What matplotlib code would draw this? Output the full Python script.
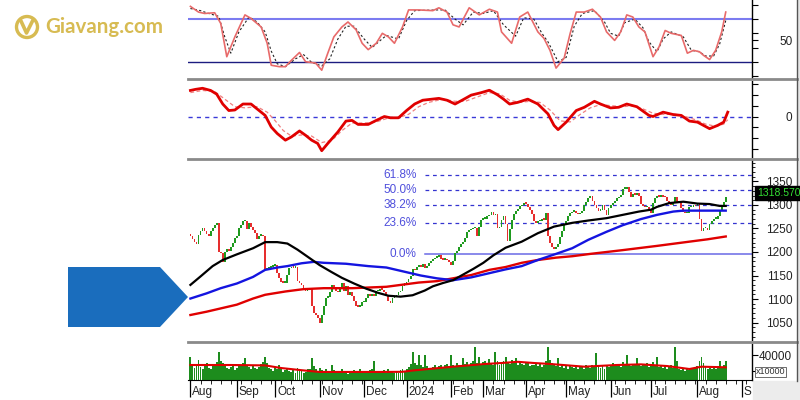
import numpy as np
import matplotlib.pyplot as plt
from matplotlib.lines import Line2D
from matplotlib.patches import Polygon, Rectangle, Ellipse
import matplotlib.transforms as mtrans

plt.rcParams['font.family'] = ['Liberation Sans', 'DejaVu Sans']

# ---- data (index = trading day from 1 Aug 2023) ----
month_labels = ["Aug", "Sep", "Oct", "Nov", "Dec", "2024", "Feb", "Mar",
                "Apr", "May", "Jun", "Jul", "Aug", "S"]
month_pos = [0, 23, 42, 64, 86, 107, 129, 145, 166, 186, 208, 228, 251, 273]

open_first = 1240
close = [
    1235, 1228, 1222, 1219, 1238, 1246, 1251, 1245, 1240, 1236,
    1245, 1253, 1258, 1262, 1202, 1198, 1180, 1200, 1208, 1204,
    1212, 1221, 1230, 1236, 1251, 1258, 1266, 1268, 1250, 1262,
    1255, 1247, 1242, 1228, 1236, 1238, 1234, 1162, 1166, 1168,
    1170, 1172, 1174, 1157, 1145, 1138, 1136, 1136, 1153, 1166,
    1170, 1168, 1170, 1140, 1134, 1130, 1123, 1119, 1121, 1123,
    1087, 1072, 1068, 1060, 1051, 1066, 1087, 1104, 1106, 1115,
    1130, 1126, 1119, 1115, 1123, 1136, 1119, 1128, 1110, 1115,
    1108, 1096, 1087, 1085, 1087, 1094, 1094, 1104, 1111, 1108,
    1112, 1108, 1117, 1119, 1123, 1121, 1115, 1108, 1096, 1092,
    1104, 1106, 1110, 1115, 1119, 1128, 1134, 1138, 1143, 1150,
    1165, 1162, 1170, 1172, 1170, 1175, 1168, 1172, 1177, 1181,
    1186, 1189, 1190, 1194, 1187, 1185, 1186, 1184, 1180, 1174,
    1182, 1198, 1204, 1211, 1219, 1223, 1230, 1243, 1247, 1250,
    1251, 1253, 1234, 1255, 1270, 1272, 1272, 1277, 1280, 1287,
    1279, 1281, 1251, 1255, 1270, 1277, 1260, 1225, 1250, 1270,
    1281, 1289, 1292, 1298, 1300, 1306, 1304, 1296, 1290, 1281,
    1266, 1262, 1266, 1268, 1272, 1270, 1283, 1236, 1221, 1211,
    1208, 1212, 1219, 1232, 1245, 1258, 1268, 1277, 1283, 1287,
    1287, 1285, 1281, 1283, 1289, 1300, 1308, 1315, 1321, 1310,
    1300, 1294, 1289, 1291, 1300, 1290, 1279, 1294, 1302, 1306,
    1310, 1315, 1317, 1323, 1336, 1336, 1340, 1328, 1319, 1324,
    1323, 1326, 1321, 1304, 1298, 1296, 1296, 1291, 1285, 1306,
    1315, 1321, 1319, 1321, 1319, 1317, 1310, 1304, 1302, 1306,
    1319, 1306, 1306, 1294, 1287, 1283, 1285, 1296, 1296, 1300,
    1298, 1304, 1272, 1245, 1251, 1253, 1247, 1260, 1266, 1272,
    1272, 1277, 1289, 1296, 1308, 1318.57,
]

volume_k = [
    37, 26, 24, 28, 34, 25, 22, 27, 30, 24,
    23, 26, 29, 31, 44, 33, 30, 26, 24, 22,
    25, 27, 21, 24, 28, 26, 30, 36, 27, 25,
    23, 26, 24, 22, 25, 29, 31, 38, 30, 24,
    22, 20, 25, 23, 27, 24, 19, 21, 22, 20,
    19, 22, 18, 24, 21, 20, 17, 19, 22, 23,
    36, 26, 22, 20, 24, 21, 19, 22, 20, 18,
    27, 21, 19, 17, 20, 22, 18, 19, 16, 20,
    18, 21, 19, 17, 22, 20, 18, 17, 19, 21,
    23, 32, 20, 18, 17, 19, 21, 18, 22, 20,
    19, 17, 20, 18, 21, 22, 19, 23, 25, 29,
    44, 30, 27, 40, 28, 25, 40, 26, 24, 22,
    25, 27, 23, 26, 28, 24, 27, 29, 26, 40,
    28, 26, 30, 27, 25, 36, 29, 31, 27, 30,
    32, 50, 30, 38, 28, 31, 33, 29, 35, 30,
    28, 44, 32, 27, 30, 33, 38, 31, 29, 34,
    30, 36, 28, 33, 29, 27, 31, 30, 26, 28,
    27, 30, 26, 29, 25, 28, 32, 50, 34, 30,
    28, 26, 36, 25, 27, 24, 26, 23, 28, 25,
    24, 27, 22, 26, 25, 23, 27, 26, 24, 28,
    25, 42, 27, 24, 26, 23, 28, 25, 27, 30,
    26, 29, 27, 25, 31, 28, 40, 27, 26, 29,
    27, 36, 28, 26, 29, 27, 30, 25, 28, 31,
    26, 38, 25, 27, 24, 26, 23, 25, 27, 24,
    50, 32, 23, 21, 24, 20, 22, 21, 23, 22,
    24, 26, 33, 38, 30, 25, 22, 24, 23, 25,
    22, 26, 32, 24, 27, 32,
]

vol_ma_idx = [0, 20, 37, 45, 55, 64, 80, 95, 105, 110, 120, 130, 146, 154,
              162, 170, 178, 195, 211, 223, 236, 247, 253, 265]
vol_ma_val = [27.5, 27.5, 27, 23.7, 21, 18.8, 18.8, 18.8, 19, 20.6, 23, 25.4,
              28.8, 30, 31.5, 30, 28.8, 25.4, 27.5, 28.3, 26.2, 22.5, 25.4, 24.6]

ma_black_idx = [0, 5, 11, 16, 23, 31, 37, 43, 48, 53, 58, 64, 70, 75, 81, 87,
                93, 98, 104, 110, 116, 120, 125, 130, 135, 140, 145, 150, 156,
                164, 172, 180, 189, 197, 206, 214, 222, 228, 231, 237, 244,
                251, 257, 262, 265]
ma_black_val = [1130, 1148, 1170, 1183, 1195, 1208, 1221, 1221, 1218, 1205,
                1190, 1172, 1157, 1145, 1133, 1122, 1113, 1107, 1105, 1108,
                1118, 1127, 1134, 1140, 1152, 1164, 1177, 1193, 1209, 1222,
                1240, 1254, 1262, 1267, 1272, 1279, 1286, 1290, 1296, 1304,
                1307, 1303, 1302, 1298, 1298]

ma_blue_idx = [0, 8, 15, 23, 31, 37, 43, 48, 55, 61, 66, 77, 88, 97, 106, 114,
               122, 130, 139, 148, 156, 164, 172, 181, 189, 197, 206, 214,
               223, 231, 239, 244, 252, 265]
ma_blue_val = [1101, 1112, 1123, 1133, 1147, 1162, 1167, 1170, 1176, 1179,
               1177, 1175, 1170, 1167, 1158, 1150, 1144, 1140, 1146, 1155,
               1163, 1170, 1183, 1196, 1208, 1226, 1243, 1257, 1270, 1279,
               1286, 1288, 1288, 1288]

ma_red_idx = [0, 8, 15, 23, 31, 37, 47, 56, 66, 80, 97, 113, 122, 130, 139,
              148, 156, 164, 172, 181, 189, 198, 214, 231, 247, 256, 265]
ma_red_val = [1066, 1073, 1080, 1088, 1101, 1109, 1116, 1121, 1123, 1123,
              1126, 1135, 1138, 1144, 1151, 1162, 1168, 1177, 1183, 1188,
              1191, 1196, 1204, 1213, 1222, 1227, 1233]

fib_labels = ["0.0%", "23.6%", "38.2%", "50.0%", "61.8%"]
fib_levels = [1195.7, 1261.7, 1300, 1332, 1364]
last_price = "1318.570"

stk_idx = [0, 4, 7, 12, 15, 18, 22, 27, 30, 35, 38, 40, 44, 47, 50, 54, 57,
           62, 65, 68, 71, 75, 78, 82, 85, 88, 92, 95, 98, 101, 105, 108, 113,
           120, 123, 127, 130, 133, 138, 143, 148, 152, 154, 159, 163, 167,
           172, 175, 178, 181, 185, 188, 191, 195, 199, 203, 206, 210, 213,
           216, 219, 222, 225, 229, 232, 235, 238, 243, 246, 249, 252, 254,
           257, 260, 263, 265]
stk_val = [98, 90, 88, 89, 74, 27, 55, 86, 81, 69, 46, 15, 13, 13, 22, 33, 20,
           18, 8, 32, 55, 69, 76, 65, 46, 37, 46, 60, 55, 46, 69, 93, 93, 92,
           96, 90, 72, 69, 96, 86, 94, 90, 62, 46, 83, 90, 62, 53, 36, 11, 25,
           60, 90, 90, 94, 83, 62, 50, 62, 86, 83, 69, 62, 27, 41, 64, 60, 57,
           32, 36, 34, 29, 23, 36, 62, 90]

std_idx = [0, 5, 9, 14, 17, 20, 24, 29, 33, 37, 40, 43, 47, 52, 56, 60, 65,
           69, 73, 77, 81, 86, 90, 94, 97, 103, 107, 111, 122, 126, 131, 135,
           140, 145, 150, 155, 161, 165, 170, 174, 177, 182, 186, 190, 194,
           200, 205, 208, 212, 215, 220, 224, 227, 231, 234, 238, 244, 248,
           252, 255, 259, 262, 265]
std_val = [95, 92, 88, 84, 55, 32, 62, 83, 76, 62, 35, 17, 13, 24, 30, 19, 14,
           24, 52, 70, 70, 52, 40, 50, 57, 52, 78, 92, 93, 93, 80, 72, 90, 88,
           92, 72, 56, 82, 80, 60, 48, 20, 26, 70, 88, 92, 76, 60, 56, 75, 80,
           68, 48, 34, 52, 62, 55, 36, 34, 28, 28, 45, 78]

macd_idx = [0, 2.5, 6, 10, 13, 16, 19, 22, 26, 30, 34, 37, 40, 43, 47, 50, 54,
            57, 60, 63, 65, 68, 73, 77, 80, 83, 88, 92, 96, 99, 103, 107, 111,
            115, 123, 127, 131, 134, 139, 144, 148, 152, 155, 158, 162, 167,
            172, 177, 180, 182, 186, 191, 195, 200, 203, 208, 212, 216, 221,
            227, 229, 234, 239, 243, 247, 251, 257, 261, 264, 266]
macd_val = [24, 25, 26, 24, 20.6, 11.5, 5.5, 6, 11.5, 11.5, 5.5, 1, -9.7,
            -15.7, -21.8, -18.8, -13.3, -17.3, -21.8, -24.8, -31.5, -24.8,
            -14.2, -4.2, -3.6, -7.3, -7.3, -3.6, 0, -1.2, -1.2, 5.5, 11.5, 15,
            16.7, 15, 11.5, 14.5, 19.7, 22, 24.2, 20, 16, 11.5, 13, 16, 11.5,
            2.4, -8.2, -12.1, -5.2, 5.5, 8.5, 14, 11.5, 7.9, 8.5, 11.5, 9, 1,
            0, 4, 1.8, 1, -4.2, -5.2, -11.2, -8.2, -5.2, 4]

sig_idx = [0, 6, 12, 17, 22, 27, 33, 38, 42, 46, 50, 55, 60, 65, 70, 75, 80,
           86, 92, 97, 103, 108, 113, 118, 125, 131, 136, 142, 148, 153, 158,
           163, 168, 173, 178, 183, 188, 193, 198, 203, 208, 214, 219, 224,
           229, 234, 240, 245, 250, 255, 260, 264, 266]
sig_val = [22, 24, 23, 16, 9, 8, 9, 4, -4, -13, -18, -17, -18, -24, -22, -13,
           -6, -6, -5, -2, -1, 2, 9, 13, 16, 14, 14, 18, 22, 21, 15, 13, 14,
           13, 6, -4, -5, 2, 8, 11, 10, 9, 10, 7, 3, 2, 2, 0, -3, -7, -9, -7,
           -3]

# ---- layout (pixel based, 800x400) ----
W, H = 800, 400


def fx(x):
    return x / W


def fy(y):
    return 1 - y / H


fig = plt.figure(figsize=(8, 4), dpi=100)
fig.patch.set_facecolor('white')


def add_ax(top, bottom):
    return fig.add_axes([fx(188), fy(bottom), (752 - 188) / W, (bottom - top) / H])


ax_st = add_ax(0, 78)
ax_md = add_ax(81, 157)
ax_p = add_ax(160, 340)
ax_v = add_ax(344, 380)

XMIN, XMAX = -1.2, 278
for ax in (ax_st, ax_md, ax_p, ax_v):
    ax.set_xlim(XMIN, XMAX)
    for s in ('top', 'left', 'bottom'):
        ax.spines[s].set_visible(False)
    ax.spines['right'].set_color('black')
    ax.spines['right'].set_linewidth(1.0)
    ax.yaxis.tick_right()
    ax.tick_params(axis='y', which='major', length=4, width=0.8, pad=25,
                   labelsize=8.5, labelcolor='#222222')
    ax.tick_params(axis='y', which='minor', length=2.5, width=0.6)
    ax.set_xticks([])

# ---- stochastic ----
ax_st.set_ylim(-3, 107)
ax_st.axhline(80, color='#7b7bf0', lw=1.5)
ax_st.axhline(20, color='#1c1c80', lw=1.0)
ax_st.plot(std_idx, std_val, color='#222222', lw=0.8, ls=(0, (2, 2)))
ax_st.plot(stk_idx, stk_val, color='#e86a6a', lw=1.2)
ax_st.set_yticks([0, 20, 40, 50, 60, 80, 100])
ax_st.set_yticklabels(['', '', '', '50', '', '', ''])

# ---- macd ----
ax_md.set_ylim(-37.3, 32.7)
ax_md.axhline(0, color='#3a3ad8', lw=1.0, ls=(0, (3, 3)))
ax_md.plot(sig_idx, sig_val, color='#f08080', lw=0.9, ls=(0, (3, 2)))
ax_md.plot(macd_idx, macd_val, color='#e00000', lw=2.0)
ax_md.set_yticks([-30, -20, -10, 0, 10, 20, 30])
ax_md.set_yticklabels(['', '', '', '0', '', '', ''])

# ---- price ----
idx = np.arange(len(close))
c = np.array(close, dtype=float)
o = np.r_[open_first, c[:-1]]
lo = np.minimum(o, c)
hi = np.maximum(o, c)
cols = np.where(c >= o, '#1f9a1f', '#e62e2e')
ax_p.set_ylim(1012.8, 1395.7)
ax_p.bar(idx, np.maximum(hi - lo, 3), bottom=lo - 1, width=0.9, color=cols,
         linewidth=0, zorder=3)
ax_p.plot(ma_red_idx, ma_red_val, color='#e00000', lw=1.7, zorder=4)
ax_p.plot(ma_blue_idx, ma_blue_val, color='#1414e0', lw=1.7, zorder=4)
ax_p.plot(ma_black_idx, ma_black_val, color='black', lw=1.6, zorder=5)

fib_start = 116
for lab, lev in zip(fib_labels, fib_levels):
    if lab == "0.0%":
        ax_p.plot([fib_start, XMAX], [lev, lev], color='#6a6ae6', lw=1.1, zorder=2)
    else:
        ax_p.plot([fib_start, XMAX], [lev, lev], color='#3434d0', lw=0.9,
                  ls=(0, (3, 3)), zorder=2)
    ax_p.text(112, lev, lab, ha='right', va='center', fontsize=8.5,
              color='#4f4fdc')

ax_p.set_yticks([1050, 1100, 1150, 1200, 1250, 1300, 1350])
ax_p.set_yticks(np.arange(1020, 1400, 10), minor=True)
fig.text(fx(757), fy(193), last_price, ha='left', va='center', fontsize=7.5,
         color='#33dd33', zorder=20,
         bbox=dict(boxstyle='square,pad=0.2', fc='black', ec='black'))

# ---- volume ----
ax_v.set_ylim(8.75, 53.75)
ax_v.bar(idx, volume_k, width=0.95, color='#1d8c1d', linewidth=0)
ax_v.plot(vol_ma_idx, vol_ma_val, color='#e00000', lw=1.5)
ax_v.set_yticks([20, 40])
ax_v.set_yticklabels(['', '40000'])
ax_v.spines['bottom'].set_visible(True)
ax_v.spines['bottom'].set_color('black')
ax_v.set_xticks(month_pos)
ax_v.set_xticklabels([])
ax_v.set_xticks(np.arange(0, 278, 5), minor=True)
ax_v.tick_params(axis='x', which='major', length=12, width=0.9, direction='out')
ax_v.tick_params(axis='x', which='minor', length=3, width=0.6, direction='out')
tb = mtrans.blended_transform_factory(ax_v.transData, ax_v.transAxes)
for lab, p in zip(month_labels, month_pos):
    ax_v.text(p + 0.9, -0.33, lab, transform=tb, ha='left', va='center',
              fontsize=8.5, color='#222222', clip_on=False)
fig.text(fx(756), fy(372), 'x10000', fontsize=6.5, ha='left', va='center',
         color='#333333',
         bbox=dict(boxstyle='square,pad=0.1', fc='white', ec='#555555', lw=0.6))

for ax in (ax_st, ax_md, ax_p, ax_v):
    plt.setp(ax.get_yticklabels(), ha='right')

# ---- frame pieces ----
for y in (79, 158.5, 342):
    fig.add_artist(Line2D([fx(188), fx(797)], [fy(y), fy(y)], color='#8a8a8a', lw=2))
fig.add_artist(Line2D([fx(797), fx(797)], [fy(0), fy(381)], color='#555555', lw=1))
fig.add_artist(Rectangle((fx(797.5), 0), fx(3), 1, transform=fig.transFigure,
                         color='#e6e6e6', zorder=0))
fig.add_artist(Rectangle((fx(752.5), fy(400)), fx(48), (400 - 381) / H,
                         transform=fig.transFigure, color='#ececec', zorder=0))

# ---- arrow and logo ----
arrow = Polygon([(fx(68), fy(267)), (fx(160), fy(267)), (fx(188), fy(297)),
                 (fx(160), fy(327)), (fx(68), fy(327))], closed=True,
                transform=fig.transFigure, fc='#1a6dbd', ec='none', zorder=10)
fig.add_artist(arrow)

gold = '#d7bb52'
fig.add_artist(Ellipse((fx(27), fy(27)), 21 / W, 21 / H, transform=fig.transFigure,
                       fc='none', ec=gold, lw=2.4))
fig.add_artist(Line2D([fx(21), fx(26.5), fx(33)], [fy(21), fy(33), fy(20)],
                      color=gold, lw=2.6, solid_capstyle='round'))
fig.text(fx(45), fy(27), 'Giavang.com', fontsize=14.8, fontweight='bold',
         family=['Lato', 'DejaVu Sans'], color=gold, va='center', ha='left')

fig.savefig('out.png', dpi=100)
